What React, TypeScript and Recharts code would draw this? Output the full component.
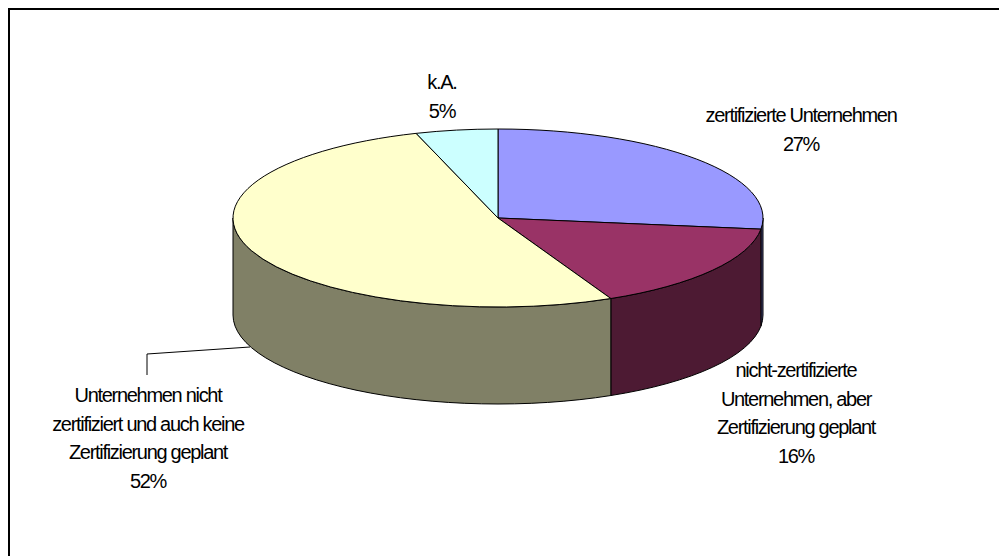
import { PieChart, Pie } from "recharts";

const categories = [
  "zertifizierte Unternehmen",
  "nicht-zertifizierte Unternehmen, aber Zertifizierung geplant",
  "Unternehmen nicht zertifiziert und auch keine Zertifizierung geplant",
  "k.A.",
];
const values = [27, 16, 52, 5];
const topColors = ["#9999FF", "#993366", "#FFFFCC", "#CCFFFF"];
const sideColors = ["#4D4D80", "#4D1A33", "#808066", "#668080"];

const labelLines = [
  ["zertifizierte Unternehmen", "27%"],
  ["nicht-zertifizierte", "Unternehmen, aber", "Zertifizierung geplant", "16%"],
  ["Unternehmen nicht", "zertifiziert und auch keine", "Zertifizierung geplant", "52%"],
  ["k.A.", "5%"],
];

const data = categories.map((name, i) => ({ name, value: values[i] }));

const SQUASH = 89 / 265;
const DEPTH = 97;
const LINE_HEIGHT = 28.6;
const labelAnchors = [
  { x: 801, y: 122 },
  { x: 796, y: 377 },
  { x: 148, y: 402 },
  { x: 442, y: 89 },
];

// same angles as the library hands out, only squashed into an ellipse
function Slice3D(props: any) {
  const { cx, cy, outerRadius, startAngle, endAngle, index } = props;
  const rx = outerRadius;
  const ry = outerRadius * SQUASH;
  const pt = (deg: number, dy = 0) => {
    const rad = (deg * Math.PI) / 180;
    return `${cx + rx * Math.cos(rad)} ${cy - ry * Math.sin(rad) + dy}`;
  };
  const large = startAngle - endAngle > 180 ? 1 : 0;
  const top = `M ${cx} ${cy} L ${pt(startAngle)} A ${rx} ${ry} 0 ${large} 1 ${pt(endAngle)} Z`;

  // only the front half of the rim is visible
  const from = Math.min(startAngle, 0);
  const to = Math.max(endAngle, -180);
  const side =
    from > to
      ? `M ${pt(from)} A ${rx} ${ry} 0 0 1 ${pt(to)} L ${pt(to, DEPTH)} A ${rx} ${ry} 0 0 0 ${pt(from, DEPTH)} Z`
      : null;

  return (
    <g>
      {side && <path d={side} fill={sideColors[index]} stroke="#000" strokeWidth={1} />}
      <path d={top} fill={topColors[index]} stroke="#000" strokeWidth={1} strokeLinejoin="round" />
    </g>
  );
}

function SliceLabel(props: any) {
  const { index } = props;
  const anchor = labelAnchors[index];
  return (
    <g>
      {index === 2 && <polyline points="250,347 147,354 147,375" fill="none" stroke="#000" strokeWidth={1} />}
      <text
        textAnchor="middle"
        fontFamily="Liberation Sans, Arial, sans-serif"
        fontSize={20}
        letterSpacing={-1.3}
        fill="#000"
      >
        {labelLines[index].map((line, i) => (
          <tspan key={line} x={anchor.x} y={anchor.y + i * LINE_HEIGHT}>
            {line}
          </tspan>
        ))}
      </text>
    </g>
  );
}

export default function App() {
  return (
    <div style={{ position: "absolute", left: 0, top: 0, width: 999, height: 556, background: "#fff", overflow: "hidden" }}>
      <div style={{ position: "absolute", left: 8, top: 8, width: 991, height: 548, borderLeft: "2px solid #000", borderTop: "2px solid #000", boxSizing: "border-box" }} />
      <PieChart width={999} height={556} margin={{ top: 0, right: 0, bottom: 0, left: 0 }}>
        <Pie
          data={data}
          dataKey="value"
          nameKey="name"
          cx={498}
          cy={218}
          outerRadius={265}
          startAngle={90}
          endAngle={-270}
          shape={Slice3D}
          label={SliceLabel}
          labelLine={false}
          isAnimationActive={false}
        />
      </PieChart>
    </div>
  );
}
